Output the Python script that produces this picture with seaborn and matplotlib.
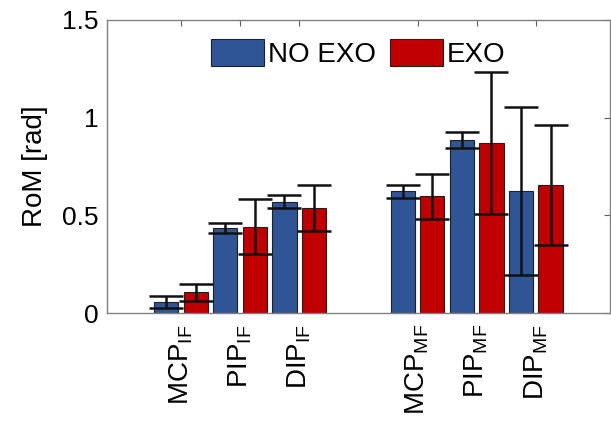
import pandas as pd
import matplotlib.pyplot as plt
import seaborn as sns
import numpy as np

# data
joints = ['MCP_IF', 'PIP_IF', 'DIP_IF', 'MCP_MF', 'PIP_MF', 'DIP_MF']
slot_order = ['MCP_IF', 'PIP_IF', 'DIP_IF', '', 'MCP_MF', 'PIP_MF', 'DIP_MF']
tick_labels = [r'MCP$_{\mathrm{IF}}$', r'PIP$_{\mathrm{IF}}$', r'DIP$_{\mathrm{IF}}$',
               r'MCP$_{\mathrm{MF}}$', r'PIP$_{\mathrm{MF}}$', r'DIP$_{\mathrm{MF}}$']
conditions = ['NO EXO', 'EXO']
rom_no_exo = [0.058, 0.437, 0.570, 0.622, 0.886, 0.625]
sd_no_exo = [0.030, 0.026, 0.034, 0.034, 0.041, 0.430]
rom_exo = [0.107, 0.442, 0.536, 0.597, 0.870, 0.654]
sd_exo = [0.043, 0.142, 0.118, 0.115, 0.365, 0.308]

colors = ['#2F5597', '#C00000']

sns.set_style("white")
plt.rcParams['font.family'] = ['Liberation Sans', 'DejaVu Sans']
plt.rcParams['mathtext.fontset'] = 'custom'
plt.rcParams['mathtext.rm'] = 'Liberation Sans'
plt.rcParams['mathtext.it'] = 'Liberation Sans:italic'
plt.rcParams['mathtext.bf'] = 'Liberation Sans:bold'
plt.rcParams['text.color'] = 'black'
plt.rcParams['axes.labelcolor'] = 'black'
plt.rcParams['xtick.color'] = 'black'
plt.rcParams['ytick.color'] = 'black'

df = pd.DataFrame({
    'joint': joints * 2,
    'cond': [conditions[0]] * len(joints) + [conditions[1]] * len(joints),
    'rom': rom_no_exo + rom_exo,
})
sds = {conditions[0]: sd_no_exo, conditions[1]: sd_exo}

fig = plt.figure(figsize=(6.11, 4.23), dpi=100)
ax = fig.add_axes([0.175, 0.26, 0.823, 0.693])

sns.barplot(data=df, x='joint', y='rom', hue='cond', order=slot_order,
            hue_order=conditions, palette=colors, saturation=1, width=1.0, gap=0.18,
            edgecolor='#202020', linewidth=0.8, errorbar=None, ax=ax)

# error bars (mean +- sd) on top of each bar
for cont, cond in zip(ax.containers, conditions):
    bars = sorted(cont, key=lambda b: b.get_x())
    xs = [b.get_x() + b.get_width() / 2 for b in bars]
    hs = [b.get_height() for b in bars]
    ax.errorbar(xs, hs, yerr=sds[cond], fmt='none', ecolor='#111111',
                elinewidth=1.8, capsize=12, capthick=1.8, zorder=5)

ax.set_xlim(-1.25, 7.25)
ax.set_ylim(0, 1.5)
ax.set_yticks([0, 0.5, 1, 1.5])
ax.set_yticklabels(['0', '0.5', '1', '1.5'])
ax.set_xticks([0, 1, 2, 4, 5, 6])
ax.set_xticklabels(tick_labels, rotation=90)
ax.set_xlabel('')
ax.set_ylabel('RoM [rad]', fontsize=20, labelpad=10)

for s in ax.spines.values():
    s.set_visible(True)
    s.set_color('#808080')
    s.set_linewidth(1.0)
ax.tick_params(axis='both', direction='in', length=4, width=0.8, color='#606060',
               labelcolor='black', top=True, right=True, labelsize=19, pad=6)
ax.tick_params(axis='x', labelsize=20, pad=8)

leg = ax.legend(loc='upper center', ncol=2, frameon=False, fontsize=20,
                handlelength=1.9, handleheight=1.1, handletextpad=0.15,
                columnspacing=0.5, borderaxespad=0.3)
for t in leg.get_texts():
    t.set_color('black')

plt.savefig('out.png', dpi=100)
